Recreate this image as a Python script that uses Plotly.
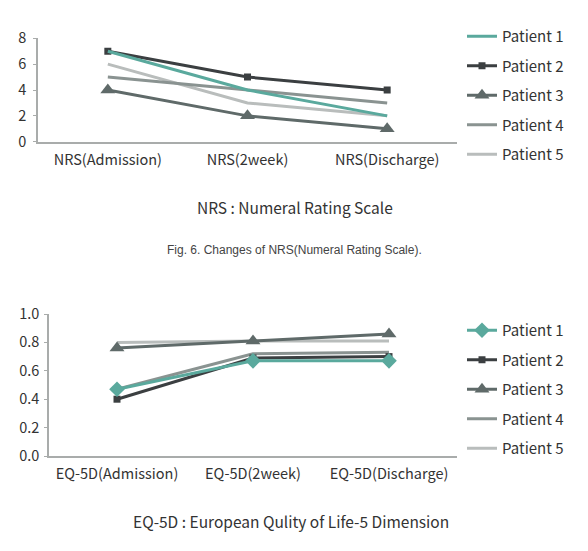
import plotly.graph_objects as go

nrs_cats = ["NRS(Admission)", "NRS(2week)", "NRS(Discharge)"]
eq_cats = ["EQ-5D(Admission)", "EQ-5D(2week)", "EQ-5D(Discharge)"]
patients = ["Patient 1", "Patient 2", "Patient 3", "Patient 4", "Patient 5"]

nrs_p1 = [7, 4, 2]
nrs_p2 = [7, 5, 4]
nrs_p3 = [4, 2, 1]
nrs_p4 = [5, 4, 3]
nrs_p5 = [6, 3, 2]

eq_p1 = [0.47, 0.67, 0.67]
eq_p2 = [0.40, 0.69, 0.70]
eq_p3 = [0.76, 0.81, 0.86]
eq_p4 = [0.47, 0.72, 0.73]
eq_p5 = [0.80, 0.81, 0.81]

colors = ["#5aa99d", "#3b3f41", "#5f6a69", "#8a9391", "#b9bdbc"]
nrs_symbols = [None, "square", "triangle-up", None, None]
eq_symbols = ["diamond", "square", "triangle-up", None, None]
sym_sizes = {"square": 7, "triangle-up": 13, "diamond": 12}

FONT = "Noto Sans CJK KR"

fig = go.Figure()

nrs_vals = [nrs_p1, nrs_p2, nrs_p3, nrs_p4, nrs_p5]
eq_vals = [eq_p1, eq_p2, eq_p3, eq_p4, eq_p5]

draw_order = [4, 3, 2, 1, 0]

for i in draw_order:
    sym = nrs_symbols[i]
    fig.add_trace(go.Scatter(
        x=nrs_cats, y=nrs_vals[i], name=patients[i],
        mode="lines+markers" if sym else "lines",
        line=dict(color=colors[i], width=3),
        marker=dict(symbol=sym or "circle", size=sym_sizes.get(sym, 1), color=colors[i]),
        xaxis="x", yaxis="y", legend="legend", legendgroup="a%d" % i,
        legendrank=i,
    ))

for i in draw_order:
    sym = eq_symbols[i]
    fig.add_trace(go.Scatter(
        x=eq_cats, y=eq_vals[i], name=patients[i],
        mode="lines+markers" if sym else "lines",
        line=dict(color=colors[i], width=3),
        marker=dict(symbol=sym or "circle", size=sym_sizes.get(sym, 1), color=colors[i]),
        xaxis="x2", yaxis="y2", legend="legend2", legendgroup="b%d" % i,
        legendrank=i,
    ))

axis_common = dict(
    showgrid=False, zeroline=False, showline=True, linecolor="#a9acab", linewidth=1.5,
    tickfont=dict(family=FONT, size=14.5, color="#333333"), automargin=False,
)

legend_common = dict(
    xanchor="left", yanchor="top",
    font=dict(family=FONT, size=15, color="#333333"),
    tracegroupgap=7, itemwidth=30, bgcolor="rgba(0,0,0,0)",
)

fig.update_layout(
    width=588, height=551,
    margin=dict(l=0, r=0, t=0, b=0, autoexpand=False),
    paper_bgcolor="white", plot_bgcolor="white",
    font=dict(family=FONT, color="#333333"),
    xaxis=dict(domain=[38/588, 457/588], range=[-0.5, 2.5], anchor="y",
               ticks="", ticklabelstandoff=4, **axis_common),
    yaxis=dict(domain=[1-141.7/551, 1-38.3/551], range=[0, 8], anchor="x",
               tickvals=[0, 2, 4, 6, 8], ticks="outside", ticklen=3, tickcolor="#a9acab",
               ticklabelstandoff=4, **axis_common),
    xaxis2=dict(domain=[49/588, 457/588], range=[-0.5, 2.5], anchor="y2",
                ticks="", ticklabelstandoff=4, **axis_common),
    yaxis2=dict(domain=[1-456/551, 1-314/551], range=[0, 1.0], anchor="x2",
                tickvals=[0, 0.2, 0.4, 0.6, 0.8, 1.0], tickformat=".1f",
                ticks="outside", ticklen=3, tickcolor="#a9acab",
                ticklabelstandoff=2, **axis_common),
    legend=dict(x=462/588, y=1-20/551, **legend_common),
    legend2=dict(x=462/588, y=1-314/551, **legend_common),
    annotations=[
        dict(text="NRS : Numeral Rating Scale", x=295/588, y=1-207/551, xref="paper", yref="paper",
             xanchor="center", yanchor="middle",
             showarrow=False, font=dict(family=FONT, size=15.5, color="#333333")),
        dict(text="Fig. 6. Changes of NRS(Numeral Rating Scale).", x=295/588, y=1-250/551,
             xref="paper", yref="paper", showarrow=False, xanchor="center", yanchor="middle",
             font=dict(family="Liberation Sans", size=12, color="#444444")),
        dict(text="EQ-5D : European Qulity of Life-5 Dimension", x=291/588, y=1-521/551,
             xref="paper", yref="paper", showarrow=False, xanchor="center", yanchor="middle",
             font=dict(family=FONT, size=15.5, color="#333333")),
    ],
)

fig.write_html("out.html")
